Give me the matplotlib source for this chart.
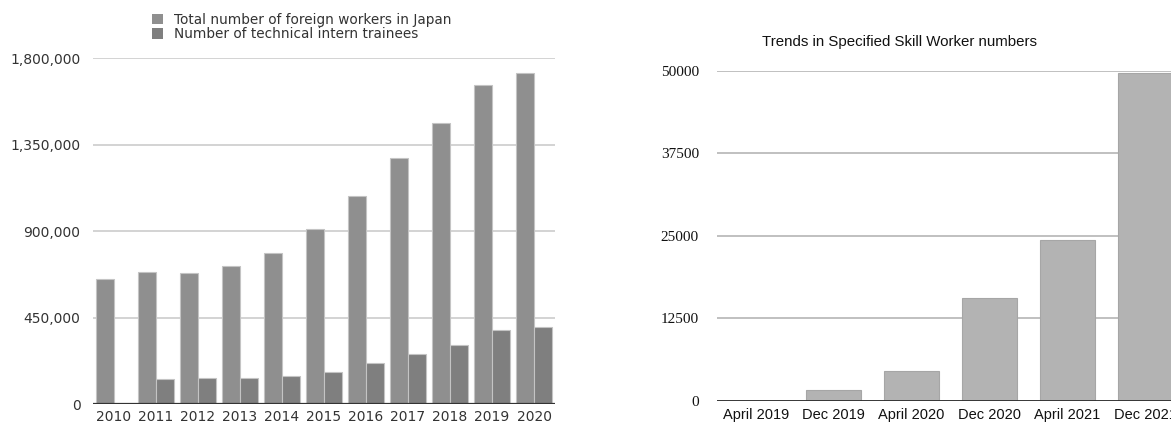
import matplotlib
matplotlib.use("Agg")
import matplotlib.pyplot as plt
import numpy as np

# Foreign workers in Japan, 2010-2020
years = ["2010", "2011", "2012", "2013", "2014", "2015",
         "2016", "2017", "2018", "2019", "2020"]
total_workers = [649982, 686246, 682450, 717504, 787627, 907896,
                 1083769, 1278670, 1460463, 1658804, 1724328]
intern_trainees = [0, 130000, 134228, 136608, 145426, 168296,
                   211108, 257788, 308489, 383978, 402356]
left_ticks = [0, 450000, 900000, 1350000, 1800000]

# Specified Skill Worker numbers
periods = ["April 2019", "Dec 2019", "April 2020", "Dec 2020",
           "April 2021", "Dec 2021"]
ssw_counts = [0, 1621, 4500, 15663, 24400, 49666]
right_ticks = [0, 12500, 25000, 37500, 50000]

W, H = 1171, 423
fig = plt.figure(figsize=(W / 100, H / 100), dpi=100)

# ---- left: grouped bars
ax1 = fig.add_axes([93 / W, 1 - 404 / H, 462 / W, (404 - 58) / H])
x = np.arange(len(years))
bw = 0.43
b1 = ax1.bar(x - bw, total_workers, bw, align="edge", color="#8f8f8f",
             edgecolor="#c4c4c4", linewidth=0.8, zorder=3)
b2 = ax1.bar(x, intern_trainees, bw, align="edge", color="#7f7f7f",
             edgecolor="#c4c4c4", linewidth=0.8, zorder=3)
ax1.set_xlim(-0.5, len(years) - 0.5)
ax1.set_ylim(0, 1800000)
ax1.set_yticks(left_ticks)
ax1.set_yticklabels([f"{v:,}" for v in left_ticks])
ax1.set_xticks(x)
ax1.set_xticklabels(years)
ax1.tick_params(axis="both", length=0, labelsize=10, labelcolor="#333333")
ax1.tick_params(axis="y", pad=9)
ax1.tick_params(axis="x", pad=4)
for s in ax1.spines.values():
    s.set_visible(False)
ax1.yaxis.grid(True, color="#cccccc", linewidth=1.2, zorder=0)
ax1.axhline(0, color="#333333", linewidth=1.6, zorder=4)

leg = ax1.legend([b1, b2], ["Total number of foreign workers in Japan",
                            "Number of technical intern trainees"],
                 loc="upper left", bbox_to_anchor=(152 / W, 1 - 13 / H),
                 bbox_transform=fig.transFigure, frameon=False, fontsize=9.8,
                 handlelength=0.8, handleheight=0.8, handletextpad=0.85,
                 labelspacing=0.02, borderpad=0, borderaxespad=0)
for t in leg.get_texts():
    t.set_color("#333333")
for p in leg.get_patches():
    p.set_edgecolor("none")

# ---- right: single series, axes run off the right edge
ax2 = fig.add_axes([717 / W, 1 - 401 / H, 467 / W, (401 - 70.7) / H])
xr = np.arange(len(periods))
ax2.bar(xr, ssw_counts, 0.705, color="#b3b3b3", edgecolor="#a6a6a6",
        linewidth=0.8, zorder=3)
ax2.set_xlim(-0.5, len(periods) - 0.5)
ax2.set_ylim(0, 50000)
ax2.set_yticks(right_ticks)
ax2.set_yticklabels([str(v) for v in right_ticks],
                    family="Liberation Serif", fontsize=11)
ax2.set_xticks(xr)
ax2.set_xticklabels(periods, family="Liberation Sans", fontsize=10.5)
ax2.tick_params(axis="both", length=0, labelcolor="#111111")
ax2.tick_params(axis="y", pad=13)
ax2.tick_params(axis="x", pad=5)
for s in ax2.spines.values():
    s.set_visible(False)
ax2.yaxis.grid(True, color="#b5b5b5", linewidth=1.2, zorder=0)
ax2.axhline(0, color="#111111", linewidth=1.8, zorder=4)

fig.text(900 / W, 1 - 42 / H, "Trends in Specified Skill Worker numbers",
         ha="center", va="center", family="Liberation Sans", fontsize=10.8,
         color="#111111")

fig.savefig("out.png", dpi=100)
